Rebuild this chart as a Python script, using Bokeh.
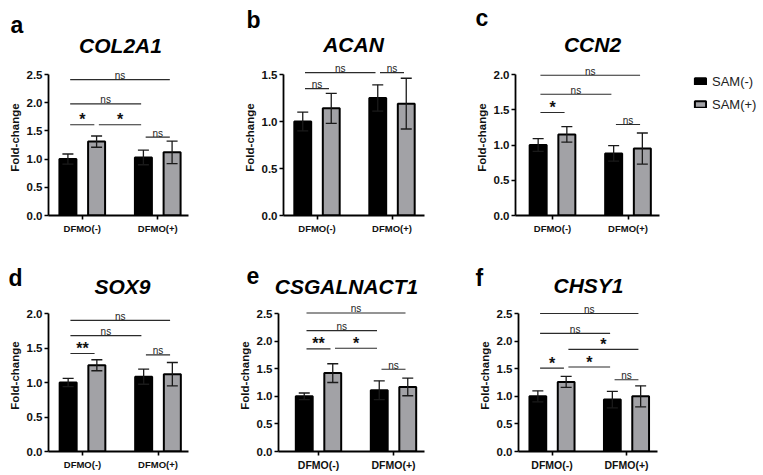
from bokeh.plotting import figure
from bokeh.layouts import row, column
from bokeh.models import (ColumnDataSource, Whisker, TeeHead, Label, Legend, LegendItem,
                          FixedTicker, PrintfTickFormatter)
from bokeh.core.properties import value
from bokeh.embed import file_html
from bokeh.resources import INLINE

# ---------------- data ----------------
letters = ["a", "b", "c", "d", "e", "f"]
genes = ["COL2A1", "ACAN", "CCN2", "SOX9", "CSGALNACT1", "CHSY1"]
groups = ["DFMO(-)", "DFMO(+)"]
series = ["SAM(-)", "SAM(+)"]
y_max = [2.5, 1.5, 2.0, 2.0, 2.5, 2.5]

sam_neg_mean = [[1.00, 1.03], [1.00, 1.25], [1.00, 0.88], [1.00, 1.085], [1.00, 1.11], [1.00, 0.94]]
sam_neg_sd = [[0.09, 0.13], [0.10, 0.14], [0.09, 0.11], [0.06, 0.11], [0.06, 0.17], [0.10, 0.15]]
sam_pos_mean = [[1.31, 1.12], [1.14, 1.19], [1.15, 0.95], [1.25, 1.12], [1.42, 1.17], [1.26, 1.00]]
sam_pos_sd = [[0.10, 0.20], [0.16, 0.27], [0.11, 0.22], [0.08, 0.17], [0.17, 0.16], [0.10, 0.19]]

# significance brackets; bar index 0..3 = DFMO(-)SAM(-), DFMO(-)SAM(+), DFMO(+)SAM(-), DFMO(+)SAM(+)
bracket_from = [[0, 0, 0, 1, 2], [0, 2, 0], [0, 0, 0, 2], [0, 0, 0, 2], [0, 0, 0, 1, 2], [0, 0, 1, 0, 1, 2]]
bracket_to = [[3, 2, 1, 2, 3], [2, 3, 1], [3, 2, 1, 3], [3, 2, 1, 3], [3, 2, 1, 2, 3], [3, 2, 3, 1, 2, 3]]
bracket_y = [[2.41, 1.98, 1.61, 1.61, 1.39], [1.52, 1.52, 1.35], [1.99, 1.72, 1.46, 1.29],
             [1.90, 1.68, 1.42, 1.40], [2.51, 2.19, 1.86, 1.87, 1.49], [2.50, 2.14, 1.85, 1.51, 1.53, 1.30]]
bracket_text = [["ns", "ns", "*", "*", "ns"], ["ns", "ns", "ns"], ["ns", "ns", "*", "ns"],
                ["ns", "ns", "**", "ns"], ["ns", "ns", "**", "*", "ns"], ["ns", "ns", "*", "*", "*", "ns"]]

# ---------------- layout (screen px of the page) ----------------
FONT = "Liberation Sans"
XFONT_SIZE = ["9.5px"] * 4 + ["10.5px", "10.5px"]
PAGE_W = 760
HEADER = [(0, 58), (240, 298)]          # header strip (letters + gene names)
ROW_FIG = [(58, 240), (298, 473)]       # plot figure vertical extent
ROW_FRAME = [(59, 215), (299, 451)]
ROW_TOPTICK = [74, 313]
COL_FIG = [(0, 212), (212, 440), (440, 760)]
FRAME_X = [(48, 188), (283, 424), (515, 659), (48, 188), (278, 424), (518, 657)]
GROUP_PX = [(81.75, 157.25), (316.5, 391.5), (552, 627.5), (82, 157.5), (318, 393), (551.5, 626)]
LETTER_POS = [(10, 33), (246, 28), (475, 26), (8, 286), (246, 284), (475, 286)]   # left, baseline
TITLE_POS = [(120, 53), (353, 52), (592, 52), (122, 294), (346, 294), (588, 293)]  # centre, baseline
LEGEND_POS = (693, 73)
LETTER_SIZE, TITLE_SIZE = 23, 21
OFF = 0.19
BW = 0.225
INSET = 0.03
GREY = "#a2a2a6"


def header(r):
    ht, hb = HEADER[r]
    h = figure(frame_width=PAGE_W, frame_height=hb - ht, min_border=0,
               x_range=(0, PAGE_W), y_range=(0, hb - ht),
               x_axis_location=None, y_axis_location=None,
               output_backend="svg", toolbar_location=None)
    h.outline_line_color = None
    h.xgrid.visible = False
    h.ygrid.visible = False
    for k in range(3 * r, 3 * r + 3):
        lx, ly = LETTER_POS[k]
        # middle-anchored: centre sits ~0.38 em above the baseline
        h.add_layout(Label(x=lx, y=hb - ly + 0.38 * LETTER_SIZE, x_units="screen", y_units="screen",
                           text=letters[k], text_font=FONT, text_font_size=f"{LETTER_SIZE}px",
                           text_font_style="bold", text_baseline="middle",
                           text_align="left", text_color="black"))
        tx, ty = TITLE_POS[k]
        h.add_layout(Label(x=tx, y=hb - ty + 0.38 * TITLE_SIZE, x_units="screen", y_units="screen",
                           text=genes[k], text_font=FONT, text_font_size=f"{TITLE_SIZE}px",
                           text_font_style="bold italic", text_baseline="middle",
                           text_align="center", text_color="black"))
    return h


def panel(k):
    r, c = divmod(k, 3)
    ft, fb = ROW_FIG[r]
    fl, fr = COL_FIG[c]
    yt, yb = ROW_FRAME[r]
    xl, xr = FRAME_X[k]
    g1, g2 = GROUP_PX[k]
    pitch = g2 - g1
    x0 = 1 - (g1 - xl) / pitch
    x1 = 2 + (xr - g2) / pitch
    ytop = y_max[k] * (yb - yt) / (yb - ROW_TOPTICK[r])

    p = figure(frame_width=int(xr - xl), frame_height=int(yb - yt),
               min_border_left=int(xl - fl), min_border_right=int(fr - xr),
               min_border_top=int(yt - ft), min_border_bottom=int(fb - yb),
               x_range=(x0, x1), y_range=(0, ytop),
               output_backend="svg", toolbar_location=None)
    p.outline_line_color = None
    p.xgrid.visible = False
    p.ygrid.visible = False

    # axes
    p.xaxis.ticker = FixedTicker(ticks=[1, 2])
    p.xaxis.major_label_overrides = {1: groups[0], 2: groups[1]}
    nt = int(round(y_max[k] / 0.5))
    p.yaxis.ticker = FixedTicker(ticks=[0.5 * i for i in range(nt + 1)])
    p.yaxis.formatter = PrintfTickFormatter(format="%.1f")
    p.yaxis.bounds = (0, y_max[k])
    p.yaxis.axis_label = "Fold-change"
    for ax in (p.xaxis[0], p.yaxis[0]):
        ax.axis_line_color = "black"
        ax.axis_line_width = 1.8
        ax.major_tick_line_color = "black"
        ax.major_tick_line_width = 1.6
        ax.major_tick_out = 4
        ax.major_tick_in = 0
        ax.minor_tick_line_color = None
        ax.major_label_text_font = FONT
        ax.major_label_text_font_style = "bold"
        ax.major_label_text_color = "#111111"
        ax.major_label_standoff = 2
    p.xaxis.major_label_standoff = 3
    p.yaxis.major_label_text_font_size = "11.5px"
    p.xaxis.major_label_text_font_size = XFONT_SIZE[k]
    p.yaxis.axis_label_text_font = FONT
    p.yaxis.axis_label_text_font_style = "bold"
    p.yaxis.axis_label_text_font_size = "11.5px"
    p.yaxis.axis_label_text_color = "#111111"
    p.yaxis.axis_label_standoff = 3

    # bars
    bar_x = [1 - OFF, 1 + OFF, 2 - OFF, 2 + OFF]
    src_neg = ColumnDataSource(dict(
        x=[bar_x[0], bar_x[2]], top=sam_neg_mean[k],
        upper=[m + s for m, s in zip(sam_neg_mean[k], sam_neg_sd[k])],
        lower=[m - s for m, s in zip(sam_neg_mean[k], sam_neg_sd[k])]))
    src_pos = ColumnDataSource(dict(
        x=[bar_x[1], bar_x[3]], top=sam_pos_mean[k],
        upper=[m + s for m, s in zip(sam_pos_mean[k], sam_pos_sd[k])],
        lower=[m - s for m, s in zip(sam_pos_mean[k], sam_pos_sd[k])]))
    bneg = p.vbar(x="x", top="top", width=BW, source=src_neg,
                  fill_color="black", line_color="black", line_width=2)
    bpos = p.vbar(x="x", top="top", width=BW, source=src_pos,
                  fill_color=GREY, line_color="black", line_width=2)
    for src in (src_neg, src_pos):
        w = Whisker(source=src, base="x", upper="upper", lower="lower",
                    line_color="#1a1a1a", line_width=1.3, level="annotation",
                    upper_head=TeeHead(size=11, line_color="#1a1a1a", line_width=1.3),
                    lower_head=TeeHead(size=11, line_color="#1a1a1a", line_width=1.3))
        p.add_layout(w)

    # significance brackets
    bx0 = [bar_x[i] + INSET for i in bracket_from[k]]
    bx1 = [bar_x[j] - INSET for j in bracket_to[k]]
    p.segment(x0=bx0, y0=bracket_y[k], x1=bx1, y1=bracket_y[k],
              line_color="#2b2b2b", line_width=1.1)
    xm = [(a + b) / 2 for a, b in zip(bx0, bx1)]
    ns_x = [x for x, t in zip(xm, bracket_text[k]) if t == "ns"]
    ns_y = [y for y, t in zip(bracket_y[k], bracket_text[k]) if t == "ns"]
    st_x = [x for x, t in zip(xm, bracket_text[k]) if t != "ns"]
    st_y = [y for y, t in zip(bracket_y[k], bracket_text[k]) if t != "ns"]
    st_t = [t for t in bracket_text[k] if t != "ns"]
    p.text(x=ns_x, y=ns_y, text=["ns"] * len(ns_x), text_align="center",
           text_baseline="alphabetic", y_offset=-4, text_font=value(FONT),
           text_font_size="10px", text_color="#222222")
    if st_x:
        p.text(x=st_x, y=st_y, text=st_t, text_align="center",
               text_baseline="alphabetic", y_offset=-5, text_font=value(FONT),
               text_font_size="16px", text_font_style="bold", text_color="#111111")

    if k == 2:
        lx, ly = LEGEND_POS
        leg = Legend(items=[LegendItem(label=series[0], renderers=[bneg]),
                            LegendItem(label=series[1], renderers=[bpos])],
                     location=(lx - xr, (yb - ly) - 39), orientation="vertical",
                     padding=0, margin=0, spacing=7, glyph_width=14, glyph_height=8,
                     label_height=16, label_standoff=5, label_text_font=FONT,
                     label_text_font_size="13px", label_text_color="#222222",
                     border_line_color=None, background_fill_alpha=0)
        p.add_layout(leg, "right")
    return p


panels = [panel(k) for k in range(6)]
layout = column(header(0),
                row(panels[0], panels[1], panels[2], spacing=0),
                header(1),
                row(panels[3], panels[4], panels[5], spacing=0),
                spacing=0)

open("out.html", "w").write(file_html(layout, INLINE))
